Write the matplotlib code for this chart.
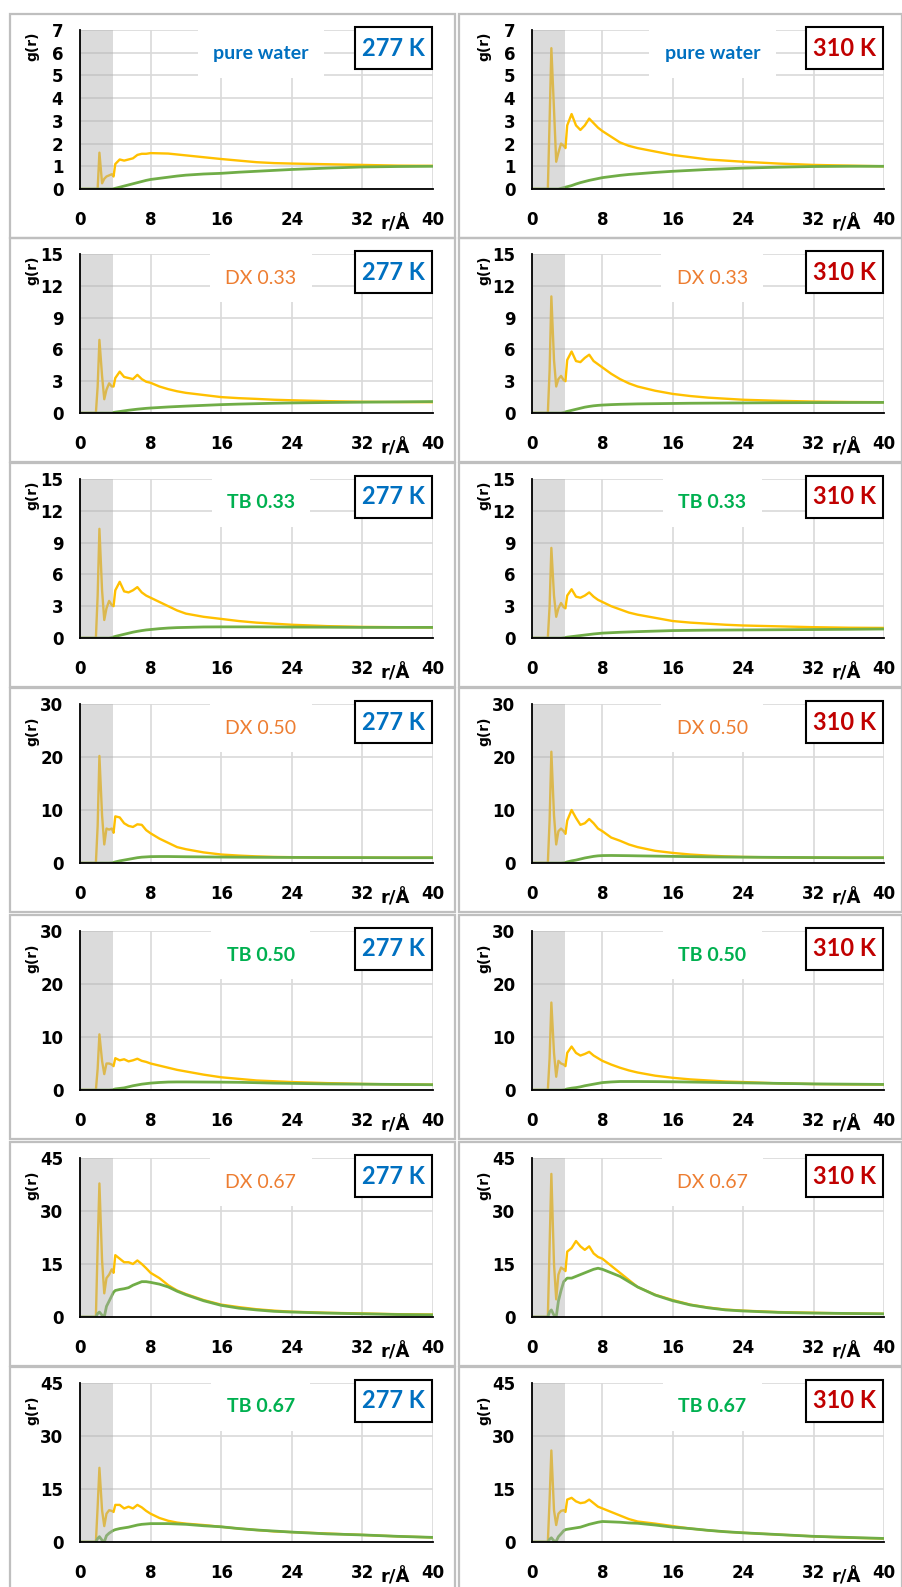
import numpy as np
import matplotlib
matplotlib.use('Agg')
import matplotlib.pyplot as plt
from matplotlib.patches import Rectangle
from matplotlib.transforms import blended_transform_factory

W, H = 903, 1587

# r grid (Angstrom), shared by all curves
r = [0, 1.8, 2.0, 2.2, 2.5, 2.75, 3.0, 3.3, 3.6, 3.8,
     4.0, 4.5, 5.0, 5.5, 6.0, 6.5, 7.0, 7.5,
     8, 9, 10, 11, 12, 14, 16, 18,
     20, 22, 24, 28, 32, 36, 40]

# pure water
y_pw_277 = [0, 0, 0, 1.6, 0.25, 0.45, 0.55, 0.6, 0.65, 0.55,
            1.1, 1.3, 1.25, 1.3, 1.35, 1.5, 1.55, 1.55,
            1.58, 1.57, 1.56, 1.52, 1.48, 1.4, 1.32, 1.25,
            1.18, 1.14, 1.12, 1.09, 1.06, 1.03, 1.02]
g_pw_277 = [0, 0, 0, 0, 0, 0, 0, 0, 0, 0.01,
            0.03, 0.08, 0.13, 0.18, 0.23, 0.28, 0.33, 0.38,
            0.42, 0.47, 0.52, 0.57, 0.61, 0.66, 0.69, 0.74,
            0.78, 0.82, 0.86, 0.92, 0.97, 0.99, 1.0]
y_pw_310 = [0, 0, 3.0, 6.2, 3.5, 1.2, 1.6, 2.0, 1.9, 1.8,
            2.8, 3.3, 2.8, 2.6, 2.8, 3.1, 2.9, 2.7,
            2.55, 2.3, 2.05, 1.9, 1.8, 1.65, 1.5, 1.4,
            1.3, 1.25, 1.2, 1.12, 1.06, 1.03, 1.0]
g_pw_310 = [0, 0, 0, 0, 0, 0, 0, 0.03, 0.06, 0.08,
            0.1, 0.15, 0.22, 0.28, 0.33, 0.38, 0.42, 0.46,
            0.5, 0.55, 0.6, 0.64, 0.67, 0.73, 0.78, 0.82,
            0.86, 0.89, 0.92, 0.96, 0.99, 1.0, 1.0]

# DX 0.33
y_dx33_277 = [0, 0, 2.5, 6.9, 3.5, 1.3, 2.2, 2.8, 2.5, 2.5,
              3.3, 3.9, 3.4, 3.3, 3.2, 3.6, 3.2, 2.95,
              2.85, 2.5, 2.25, 2.05, 1.9, 1.7, 1.5, 1.4,
              1.33, 1.25, 1.2, 1.12, 1.06, 1.03, 1.02]
g_dx33_277 = [0, 0, 0, 0, 0, 0, 0, 0, 0, 0.05,
              0.08, 0.14, 0.2, 0.26, 0.31, 0.36, 0.4, 0.44,
              0.47, 0.52, 0.57, 0.61, 0.65, 0.72, 0.79, 0.84,
              0.88, 0.92, 0.95, 0.99, 1.02, 1.05, 1.08]
y_dx33_310 = [0, 0, 4.0, 11.0, 5.0, 2.5, 3.2, 3.5, 3.1, 3.0,
              5.0, 5.8, 4.9, 4.8, 5.2, 5.5, 4.9, 4.6,
              4.3, 3.7, 3.2, 2.8, 2.5, 2.1, 1.8, 1.6,
              1.45, 1.35, 1.25, 1.15, 1.08, 1.04, 1.02]
g_dx33_310 = [0, 0, 0, 0, 0, 0, 0, 0, 0.05, 0.1,
              0.15, 0.25, 0.35, 0.45, 0.55, 0.62, 0.68, 0.72,
              0.75, 0.79, 0.82, 0.84, 0.86, 0.88, 0.9, 0.92,
              0.93, 0.94, 0.95, 0.97, 0.98, 0.99, 1.0]

# TB 0.33
y_tb33_277 = [0, 0, 4.0, 10.3, 4.5, 1.7, 2.8, 3.5, 3.1, 3.0,
              4.5, 5.3, 4.4, 4.3, 4.5, 4.8, 4.3, 4.0,
              3.8, 3.4, 3.0, 2.6, 2.3, 2.0, 1.8, 1.6,
              1.45, 1.35, 1.25, 1.12, 1.05, 1.02, 1.0]
g_tb33_277 = [0, 0, 0, 0, 0, 0, 0, 0, 0.05, 0.1,
              0.15, 0.25, 0.35, 0.45, 0.55, 0.63, 0.7, 0.76,
              0.8, 0.88, 0.94, 0.98, 1.0, 1.04, 1.05, 1.05,
              1.05, 1.04, 1.03, 1.02, 1.0, 1.0, 1.0]
y_tb33_310 = [0, 0, 3.0, 8.5, 4.0, 2.0, 2.8, 3.3, 2.9, 2.8,
              4.0, 4.6, 3.9, 3.8, 4.0, 4.3, 3.9, 3.6,
              3.4, 3.0, 2.7, 2.4, 2.2, 1.9, 1.6, 1.45,
              1.35, 1.25, 1.18, 1.1, 1.02, 0.97, 0.95]
g_tb33_310 = [0, 0, 0, 0, 0, 0, 0, 0, 0.03, 0.05,
              0.08, 0.13, 0.18, 0.23, 0.28, 0.33, 0.38, 0.42,
              0.46, 0.5, 0.54, 0.57, 0.6, 0.65, 0.7, 0.72,
              0.74, 0.75, 0.76, 0.78, 0.8, 0.82, 0.85]

# DX 0.50
y_dx50_277 = [0, 0, 7.0, 20.2, 9.0, 3.5, 6.5, 6.3, 6.5, 5.7,
              8.8, 8.6, 7.5, 7.0, 6.8, 7.3, 7.2, 6.2,
              5.6, 4.6, 3.8, 3.0, 2.6, 2.0, 1.6, 1.4,
              1.25, 1.15, 1.1, 1.02, 1.0, 1.0, 1.0]
g_dx50_277 = [0, 0, 0, 0, 0, 0, 0, 0, 0.05, 0.1,
              0.2, 0.4, 0.55, 0.7, 0.85, 1.0, 1.1, 1.15,
              1.2, 1.22, 1.22, 1.2, 1.18, 1.15, 1.12, 1.1,
              1.08, 1.06, 1.05, 1.03, 1.02, 1.0, 1.0]
y_dx50_310 = [0, 0, 8.0, 21.0, 9.0, 3.5, 6.0, 6.5, 6.0, 5.5,
              8.0, 10.0, 8.5, 7.2, 7.5, 8.3, 7.5, 6.5,
              6.0, 4.8, 4.2, 3.5, 3.0, 2.3, 1.9, 1.6,
              1.4, 1.25, 1.15, 1.05, 1.0, 1.0, 1.0]
g_dx50_310 = [0, 0, 0, 0, 0, 0, 0, 0, 0.05, 0.1,
              0.2, 0.4, 0.55, 0.75, 0.95, 1.1, 1.25, 1.35,
              1.4, 1.42, 1.4, 1.38, 1.35, 1.3, 1.25, 1.2,
              1.16, 1.13, 1.1, 1.06, 1.03, 1.0, 1.0]

# TB 0.50
y_tb50_277 = [0, 0, 4.0, 10.5, 5.5, 3.0, 5.0, 5.0, 4.8, 4.5,
              6.0, 5.6, 5.8, 5.4, 5.6, 5.9, 5.5, 5.3,
              5.0, 4.6, 4.2, 3.8, 3.5, 2.9, 2.4, 2.1,
              1.8, 1.65, 1.5, 1.3, 1.15, 1.05, 1.0]
g_tb50_277 = [0, 0, 0, 0, 0, 0, 0, 0, 0.05, 0.1,
              0.2, 0.3, 0.4, 0.6, 0.8, 0.95, 1.1, 1.2,
              1.3, 1.42, 1.5, 1.52, 1.52, 1.5, 1.48, 1.45,
              1.38, 1.3, 1.25, 1.15, 1.1, 1.05, 1.0]
y_tb50_310 = [0, 0, 6.0, 16.5, 7.0, 2.5, 5.5, 5.0, 4.8, 4.5,
              7.0, 8.2, 7.0, 6.5, 6.8, 7.2, 6.5, 6.0,
              5.5, 4.8, 4.2, 3.7, 3.3, 2.7, 2.3, 2.0,
              1.8, 1.6, 1.5, 1.25, 1.12, 1.06, 1.02]
g_tb50_310 = [0, 0, 0, 0, 0, 0, 0, 0, 0.05, 0.1,
              0.2, 0.35, 0.45, 0.6, 0.8, 0.95, 1.1, 1.25,
              1.4, 1.52, 1.6, 1.6, 1.6, 1.58, 1.55, 1.5,
              1.45, 1.4, 1.35, 1.25, 1.15, 1.1, 1.05]

# DX 0.67
y_dx67_277 = [0, 0, 20.0, 37.8, 16.0, 6.7, 11.0, 12.0, 13.5, 12.5,
              17.5, 16.5, 15.5, 15.5, 15.0, 16.0, 15.0, 13.8,
              12.5, 11.0, 9.0, 7.5, 6.5, 4.8, 3.5, 2.8,
              2.2, 1.8, 1.5, 1.2, 1.0, 0.8, 0.7]
g_dx67_277 = [0, 0, 1.0, 1.4, 0.5, 0.0, 3.0, 4.5, 6.0, 7.0,
              7.5, 7.8, 8.0, 8.3, 9.0, 9.5, 10.0, 10.0,
              9.8, 9.3, 8.5, 7.3, 6.3, 4.6, 3.3, 2.5,
              2.0, 1.6, 1.4, 1.1, 0.9, 0.7, 0.6]
y_dx67_310 = [0, 0, 20.0, 40.5, 15.0, 5.0, 12.0, 14.0, 13.5, 13.0,
              18.5, 19.5, 21.5, 20.0, 19.0, 20.0, 18.0, 17.0,
              16.5, 14.5, 12.5, 10.5, 8.5, 6.3, 4.8, 3.5,
              2.7, 2.1, 1.8, 1.4, 1.2, 1.0, 0.9]
g_dx67_310 = [0, 0, 1.5, 2.0, 0.5, 0.0, 4.5, 7.5, 10.0, 10.5,
              11.0, 11.0, 11.5, 12.0, 12.5, 13.0, 13.5, 13.8,
              13.5, 12.5, 11.5, 10.0, 8.5, 6.2, 4.6, 3.4,
              2.6, 2.0, 1.7, 1.3, 1.1, 1.0, 0.9]

# TB 0.67
y_tb67_277 = [0, 0, 10.0, 21.0, 9.0, 4.5, 8.0, 9.0, 8.8, 8.5,
              10.5, 10.5, 9.5, 10.0, 9.5, 10.5, 9.8, 8.8,
              8.0, 6.8, 6.0, 5.5, 5.2, 4.8, 4.3, 3.8,
              3.4, 3.0, 2.8, 2.4, 2.0, 1.6, 1.3]
g_tb67_277 = [0, 0, 1.0, 1.5, 0.5, 0.0, 1.8, 2.5, 3.0, 3.3,
              3.5, 3.8, 4.0, 4.2, 4.5, 4.8, 5.0, 5.1,
              5.2, 5.2, 5.2, 5.1, 5.0, 4.6, 4.3, 3.8,
              3.4, 3.1, 2.8, 2.3, 2.0, 1.6, 1.3]
y_tb67_310 = [0, 0, 12.0, 25.9, 9.0, 4.8, 8.0, 8.8, 9.0, 8.5,
              12.0, 12.5, 11.5, 11.0, 11.2, 12.0, 11.0, 10.0,
              9.5, 8.5, 7.5, 6.5, 5.8, 5.2, 4.5, 3.8,
              3.3, 2.9, 2.6, 2.1, 1.6, 1.2, 1.0]
g_tb67_310 = [0, 0, 0.8, 1.2, 0.3, 0.2, 1.5, 2.3, 3.2, 3.5,
              3.6, 3.8, 4.0, 4.2, 4.6, 5.0, 5.3, 5.6,
              5.8, 5.7, 5.6, 5.4, 5.3, 4.8, 4.2, 3.8,
              3.3, 2.9, 2.6, 2.1, 1.6, 1.3, 1.0]

sample_labels = ['pure water', 'DX 0.33', 'TB 0.33', 'DX 0.50', 'TB 0.50', 'DX 0.67', 'TB 0.67']
y_max = [7, 15, 15, 30, 30, 45, 45]
y_step = [1, 3, 3, 10, 10, 15, 15]
temps = ['277 K', '310 K']
x_ticks = [0, 8, 16, 24, 32, 40]

yellow_277 = [y_pw_277, y_dx33_277, y_tb33_277, y_dx50_277, y_tb50_277, y_dx67_277, y_tb67_277]
green_277 = [g_pw_277, g_dx33_277, g_tb33_277, g_dx50_277, g_tb50_277, g_dx67_277, g_tb67_277]
yellow_310 = [y_pw_310, y_dx33_310, y_tb33_310, y_dx50_310, y_tb50_310, y_dx67_310, y_tb67_310]
green_310 = [g_pw_310, g_dx33_310, g_tb33_310, g_dx50_310, g_tb50_310, g_dx67_310, g_tb67_310]

# styling
c_yellow = '#FFC000'
c_green = '#70AD47'
c_grid = '#D9D9D9'
c_frame = '#BFBFBF'
temp_colors = ['#0070C0', '#C00000']
label_style = {
    'pure water': ('#0070C0', 'bold'),
    'DX': ('#ED7D31', 'normal'),
    'TB': ('#00B050', 'bold'),
}

row_top = [14, 238, 463, 688, 915, 1142, 1367]
col_ax = [(80, 433), (532, 884)]
col_frame = [(10, 455), (459, 902)]
col_glabel = [32, 484]

fig = plt.figure(figsize=(W / 100, H / 100), dpi=100)
fig.patch.set_facecolor('white')


def fx(px):
    return px / W


def fy(py):
    return 1 - py / H


for i in range(7):
    T = row_top[i]
    for j in range(2):
        # panel frame
        fl, fr = col_frame[j]
        fig.add_artist(Rectangle((fx(fl), fy(T + 224)), fx(fr - fl), (224) / H,
                                 transform=fig.transFigure, fill=False,
                                 edgecolor=c_frame, linewidth=1.6, zorder=0))

        al, ar = col_ax[j]
        at, ab = T + 16, T + 175
        ax = fig.add_axes([fx(al), fy(ab), fx(ar - al), (ab - at) / H])

        yv = yellow_277[i] if j == 0 else yellow_310[i]
        gv = green_277[i] if j == 0 else green_310[i]
        ax.plot(r, yv, color=c_yellow, lw=1.7, zorder=3)
        ax.plot(r, gv, color=c_green, lw=2.0, zorder=4)
        ax.axvspan(0, 3.75, color='#B0B0B0', alpha=0.45, lw=0, zorder=5)

        ax.set_xlim(0, 40)
        ax.set_ylim(0, y_max[i])
        ax.set_xticks(x_ticks)
        ax.set_yticks(np.arange(0, y_max[i] + 0.01, y_step[i]))
        ax.grid(True, color=c_grid, lw=1.2)
        ax.set_axisbelow(True)
        ax.tick_params(length=0, labelsize=12, pad=16, axis='x')
        ax.tick_params(length=0, labelsize=12, pad=12, axis='y')
        for lab in ax.get_xticklabels() + ax.get_yticklabels():
            lab.set_fontweight('bold')
        for s in ['top', 'right']:
            ax.spines[s].set_visible(False)
        ax.spines['left'].set_color('#000000')
        ax.spines['bottom'].set_color('#000000')
        ax.spines['left'].set_linewidth(1.3)
        ax.spines['bottom'].set_linewidth(1.3)
        ax.spines['left'].set_zorder(6)
        ax.spines['bottom'].set_zorder(6)

        # r/Å label
        trans = blended_transform_factory(ax.transData, ax.transAxes)
        ax.text(35.7, -35 / 159, 'r/Å', transform=trans, ha='center', va='center',
                fontsize=13, fontweight='bold', clip_on=False)

        # g(r) label
        gy = T + 32 if i < 3 else T + 43
        fig.text(fx(col_glabel[j]), fy(gy), 'g(r)', rotation=90, ha='center', va='center',
                 fontsize=10, fontweight='bold')

        # sample label
        name = sample_labels[i]
        key = 'pure water' if name == 'pure water' else name[:2]
        col, wt = label_style[key]
        fig.text(fx(al + (ar - al) * 20.5 / 40), fy(T + 40), name, ha='center', va='center',
                 fontsize=14, fontweight=wt, color=col, family='Lato',
                 bbox=dict(facecolor='white', edgecolor='none', pad=11), zorder=8)

        # temperature box
        bx0, bx1 = ar - 78, ar - 1
        by0, by1 = T + 13, T + 55
        fig.add_artist(Rectangle((fx(bx0), fy(by1)), fx(bx1 - bx0), (by1 - by0) / H,
                                 transform=fig.transFigure, facecolor='white',
                                 edgecolor='black', linewidth=1.5, zorder=9))
        fig.text(fx((bx0 + bx1) / 2), fy((by0 + by1) / 2), temps[j], ha='center', va='center',
                 fontsize=17, fontweight='bold', color=temp_colors[j], family='Lato', zorder=10)

fig.savefig('out.png', dpi=100, facecolor='white')
